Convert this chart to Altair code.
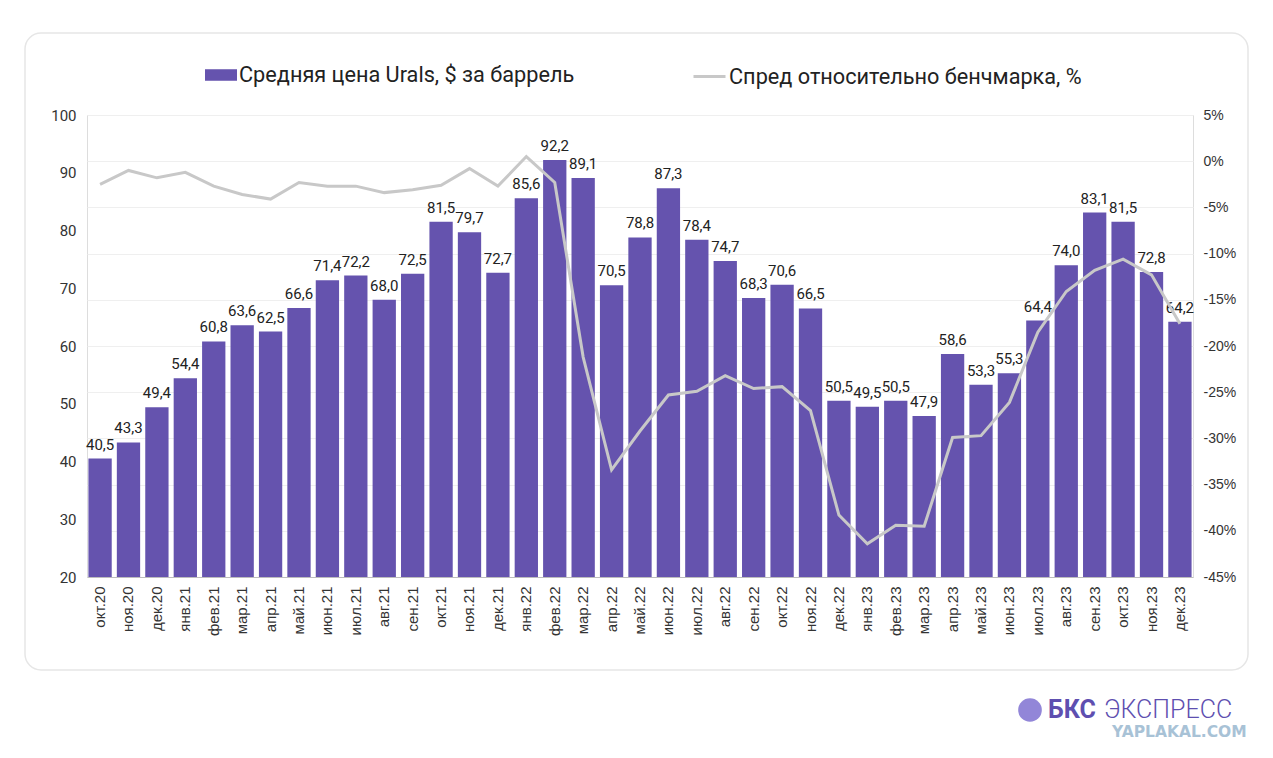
import altair as alt
import pandas as pd

months = [
    "окт.20", "ноя.20", "дек.20",
    "янв.21", "фев.21", "мар.21", "апр.21", "май.21", "июн.21",
    "июл.21", "авг.21", "сен.21", "окт.21", "ноя.21", "дек.21",
    "янв.22", "фев.22", "мар.22", "апр.22", "май.22", "июн.22",
    "июл.22", "авг.22", "сен.22", "окт.22", "ноя.22", "дек.22",
    "янв.23", "фев.23", "мар.23", "апр.23", "май.23", "июн.23",
    "июл.23", "авг.23", "сен.23", "окт.23", "ноя.23", "дек.23",
]
urals_price = [
    40.5, 43.3, 49.4,
    54.4, 60.8, 63.6, 62.5, 66.6, 71.4,
    72.2, 68.0, 72.5, 81.5, 79.7, 72.7,
    85.6, 92.2, 89.1, 70.5, 78.8, 87.3,
    78.4, 74.7, 68.3, 70.6, 66.5, 50.5,
    49.5, 50.5, 47.9, 58.6, 53.3, 55.3,
    64.4, 74.0, 83.1, 81.5, 72.8, 64.2,
]
spread_pct = [
    -2.5, -1.0, -1.8,
    -1.2, -2.7, -3.6, -4.1, -2.3, -2.7,
    -2.7, -3.4, -3.1, -2.6, -0.8, -2.7,
    0.5, -2.3, -21.2, -33.4, -29.2, -25.3,
    -24.9, -23.2, -24.6, -24.4, -27.0, -38.3,
    -41.4, -39.4, -39.5, -29.9, -29.7, -26.1,
    -18.5, -14.1, -11.8, -10.6, -12.3, -17.6,
]

bar_name = "Средняя цена Urals, $ за баррель"
line_name = "Спред относительно бенчмарка, %"
purple = "#6553AE"
grey_line = "#C8C8C8"

df = pd.DataFrame({
    "month": months,
    "price": urals_price,
    "spread": spread_pct,
    "label": [f"{v:.1f}".replace(".", ",") for v in urals_price],
    "s1": bar_name,
    "s2": line_name,
})

W, H = 1106, 462
month_scale = alt.Scale(paddingInner=0.18, paddingOuter=0.05)
month_axis = alt.Axis(
    labelAngle=-90, labelFont="Liberation Sans", labelFontSize=15,
    labelColor="#333333", labelPadding=9, ticks=False, grid=False,
    domain=True, domainColor="#BDBDBD", domainWidth=1,
)
price_scale = alt.Scale(domain=[20, 100], zero=False, nice=False)
price_axis = alt.Axis(
    orient="left", values=list(range(20, 101, 10)), grid=False, ticks=False,
    domain=False, labelFont="Roboto", labelFontSize=15,
    labelColor="#333333", labelPadding=11,
)


def month_x():
    return alt.X("month:N", sort=months, title=None, scale=month_scale, axis=month_axis)


base = alt.Chart(df)

bars = base.mark_bar(color=purple).encode(
    x=month_x(),
    y=alt.Y("price:Q", scale=price_scale, title=None, axis=price_axis),
    y2=alt.datum(20),
    fill=alt.Fill(
        "s1:N", title=None,
        scale=alt.Scale(domain=[bar_name], range=[purple]),
        legend=alt.Legend(
            orient="none", legendX=118, legendY=-56, direction="horizontal",
            symbolType="M-1,-0.36H1V0.36H-1Z", symbolSize=1024,
            symbolStrokeWidth=0, labelOffset=2, labelLimit=0,
            labelFont="Roboto", labelFontSize=21.7, labelColor="#222222",
        ),
    ),
)

labels = base.mark_text(
    baseline="bottom", dy=-6, font="Roboto", fontSize=15, color="#222222"
).encode(
    x=month_x(),
    y=alt.Y("price:Q", scale=price_scale, title=None, axis=price_axis),
    text="label:N",
)

line = base.mark_line(strokeWidth=3, interpolate="linear").encode(
    x=month_x(),
    y=alt.Y(
        "spread:Q", title=None,
        scale=alt.Scale(domain=[-45, 5], nice=False, zero=False),
        axis=alt.Axis(
            orient="right", values=list(range(-45, 6, 5)),
            labelExpr="(datum.value < 0 ? '-' : '') + abs(datum.value) + '%'",
            grid=True, gridColor="#EFEFEF", ticks=False, domain=False,
            labelFont="Liberation Sans", labelFontSize=14,
            labelColor="#333333", labelPadding=10,
        ),
    ),
    stroke=alt.Stroke(
        "s2:N", title=None,
        scale=alt.Scale(domain=[line_name], range=[grey_line]),
        legend=alt.Legend(
            orient="none", legendX=605, legendY=-56, direction="horizontal",
            symbolType="stroke", symbolSize=1024, symbolStrokeWidth=3,
            labelOffset=2, labelLimit=0,
            labelFont="Roboto", labelFontSize=21.7, labelColor="#222222",
        ),
    ),
)

one = alt.Chart(pd.DataFrame({"k": [0]}))

card = one.mark_rect(
    fillOpacity=0, stroke="#E6E6E6", strokeWidth=1.5, cornerRadius=16
).encode(
    x=alt.value(-62), x2=alt.value(1161), y=alt.value(-82), y2=alt.value(555)
)

logo = one.mark_circle(size=560, color="#8C80D6", opacity=0.95).encode(
    x=alt.value(943), y=alt.value(595)
)
brand_bold = one.mark_text(
    text="БКС", font="Roboto", fontSize=25, fontWeight="bold",
    color="#5E4FB0", align="left", baseline="middle",
).encode(x=alt.value(961), y=alt.value(595))
brand_light = one.mark_text(
    text="ЭКСПРЕСС", font="Roboto", fontSize=25, fontWeight=300,
    color="#5E4FB0", align="left", baseline="middle",
).encode(x=alt.value(1017), y=alt.value(595))
watermark = one.mark_text(
    text="YAPLAKAL.COM", font="DejaVu Sans", fontSize=15.5, fontWeight="bold",
    color="#A8C2D6", align="left", baseline="middle",
).encode(x=alt.value(1025), y=alt.value(617))

chart = alt.layer(
    card,
    alt.layer(alt.layer(bars, labels), line).resolve_scale(
        y="independent", fill="independent", stroke="independent"
    ),
    logo, brand_bold, brand_light, watermark,
).properties(
    width=W, height=H,
    autosize=alt.AutoSizeParams(type="none"),
    padding={"left": 79, "top": 107, "right": 72, "bottom": 170},
).configure_view(
    stroke="transparent", strokeWidth=0
).configure_axis(
    grid=False, domain=False, ticks=False
).configure(background="white")

chart.save("out.html", embed_options={"renderer": "svg", "actions": False})
